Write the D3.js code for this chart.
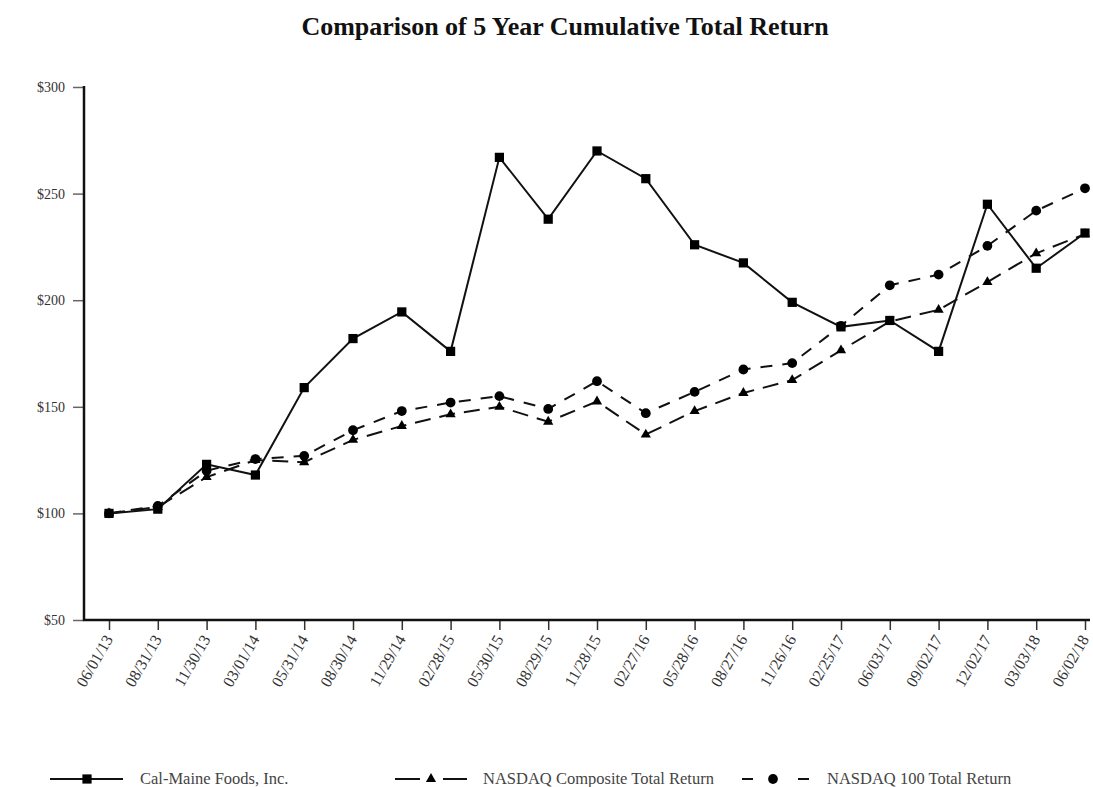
<!DOCTYPE html>
<html>
<head>
<meta charset="utf-8">
<script src="https://cdn.jsdelivr.net/npm/d3@7"></script>
<style>
  body { margin: 0; background: #fff; }
  svg text { font-family: "Liberation Serif", "Times New Roman", serif; }
</style>
</head>
<body>
<svg id="chart" width="1093" height="787"></svg>
<script>
var dates = ["06/01/13","08/31/13","11/30/13","03/01/14","05/31/14","08/30/14","11/29/14","02/28/15",
             "05/30/15","08/29/15","11/28/15","02/27/16","05/28/16","08/27/16","11/26/16","02/25/17",
             "06/03/17","09/02/17","12/02/17","03/03/18","06/02/18"];
var calMaine = [100,102,123,118,159,182,194.5,176,267,238,270,257,226,217.5,199,187.5,190.5,176,245,215,231.5];
var nasdaqComp = [100,103,117,125,124,134.5,141,146.5,150,143,152.5,137,148,156.5,162.5,176.5,190,195.5,208.5,222,231];
var nasdaq100 = [100,103.5,120,125.5,127,139,148,152,155,149,162,147,157,167.5,170.5,188,207,212,225.5,242,252.5];
var yTicks = [50,100,150,200,250,300];
var seriesNames = ["Cal-Maine Foods, Inc.","NASDAQ Composite Total Return","NASDAQ 100 Total Return"];

var svg = d3.select("#chart");
var x = d3.scalePoint().domain(dates).range([109, 1085]);
var y = d3.scaleLinear().domain([50, 300]).range([620, 87]);

svg.append("text")
  .attr("x", 565).attr("y", 35)
  .attr("text-anchor", "middle")
  .attr("font-size", 26).attr("font-weight", "bold")
  .attr("fill", "#111")
  .text("Comparison of 5 Year Cumulative Total Return");

// y axis
var yAxis = svg.append("g").attr("transform", "translate(84,0)")
  .call(d3.axisLeft(y).tickValues(yTicks).tickSize(11).tickPadding(8).tickFormat(function(d){ return "$" + d; }));
yAxis.select(".domain").remove();
yAxis.selectAll(".tick line").attr("stroke", "#666").attr("stroke-width", 1.5);
yAxis.selectAll(".tick text").attr("font-size", 14).attr("fill", "#333").style("font-family", "Liberation Serif, serif");

// x axis
var xAxis = svg.append("g").attr("transform", "translate(0,620)")
  .call(d3.axisBottom(x).tickSize(10).tickPadding(4));
xAxis.select(".domain").remove();
xAxis.selectAll(".tick line").attr("stroke", "#333").attr("stroke-width", 1.5);
xAxis.selectAll(".tick text")
  .attr("font-size", 16).attr("fill", "#333").style("font-family", "Liberation Serif, serif")
  .attr("text-anchor", "end")
  .attr("dy", null).attr("y", 0)
  .attr("transform", "translate(4,19) rotate(-60)");

// axis lines
svg.append("line").attr("x1", 84).attr("x2", 84).attr("y1", 86).attr("y2", 621)
  .attr("stroke", "#111").attr("stroke-width", 2.5);
svg.append("line").attr("x1", 83).attr("x2", 1090).attr("y1", 620).attr("y2", 620)
  .attr("stroke", "#111").attr("stroke-width", 2.5);

var line = d3.line().x(function(d, i){ return x(dates[i]); }).y(function(d){ return y(d); });

var sym = {
  square: d3.symbol().type(d3.symbolSquare).size(85),
  triangle: d3.symbol().type(d3.symbolTriangle).size(45),
  circle: d3.symbol().type(d3.symbolCircle).size(75)
};

function drawSeries(vals, dash, shape) {
  svg.append("path").datum(vals)
    .attr("d", line).attr("fill", "none")
    .attr("stroke", "#111").attr("stroke-width", 2)
    .attr("stroke-dasharray", dash);
  svg.append("g").selectAll("path").data(vals).enter().append("path")
    .attr("d", sym[shape])
    .attr("transform", function(d, i){ return "translate(" + x(dates[i]) + "," + y(d) + ")"; })
    .attr("fill", "#000");
}

drawSeries(nasdaqComp, "16,9", "triangle");
drawSeries(nasdaq100, "12,10", "circle");
drawSeries(calMaine, null, "square");

// legend
var leg = [
  {x0: 50, x1: 123, mx: 87, tx: 140, dash: null, shape: "square"},
  {x0: 395, x1: 467, mx: 431, tx: 483, dash: "25,23", shape: "triangle"},
  {x0: 742, x1: 810, mx: 773, tx: 827, dash: "11,45", shape: "circle"}
];
leg.forEach(function(l, i) {
  var g = svg.append("g");
  g.append("line").attr("x1", l.x0).attr("x2", l.x1).attr("y1", 779).attr("y2", 779)
    .attr("stroke", "#111").attr("stroke-width", 2).attr("stroke-dasharray", l.dash);
  g.append("path").attr("d", sym[l.shape]).attr("transform", "translate(" + l.mx + ",779)").attr("fill", "#000");
  g.append("text").attr("x", l.tx).attr("y", 784).attr("font-size", 16.5).attr("fill", "#444").text(seriesNames[i]);
});
</script>
</body>
</html>
